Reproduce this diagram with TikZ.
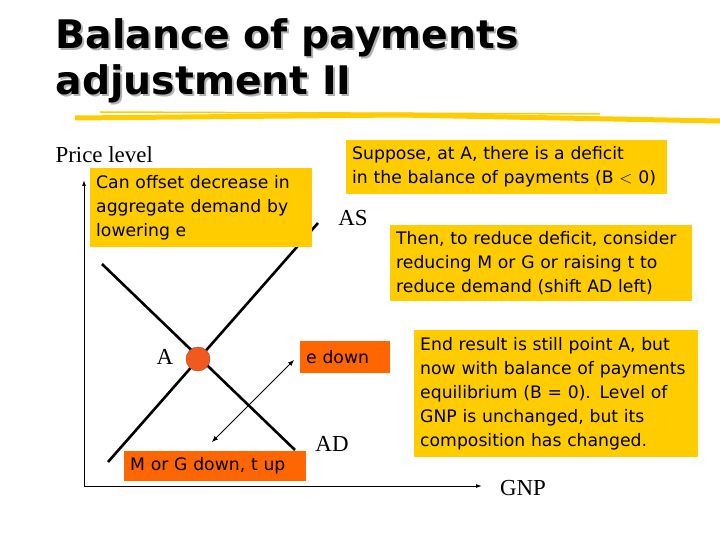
\documentclass[tikz,border=0pt]{standalone}
\usepackage{fontspec}
\setmainfont{Liberation Serif}
\newfontfamily\boxfont{DejaVu Sans}
\newfontfamily\titlefont{DejaVu Sans}
\usetikzlibrary{arrows.meta}
\definecolor{ybox}{HTML}{FFCC00}
\definecolor{obox}{HTML}{FF6600}
\definecolor{dotc}{HTML}{F05A1E}
\begin{document}
\begin{tikzpicture}[x=1bp,y=-1bp,
  ybx/.style={fill=ybox,anchor=north west,inner xsep=6bp,inner ysep=2bp,align=left,font=\boxfont\fontsize{17.3}{24}\selectfont},
  obx/.style={ybx,fill=obox},
  lbl/.style={font=\fontsize{23}{26}\selectfont},
  curve/.style={line width=2.6bp,black},
  ttl/.style={anchor=north west,align=left,font=\titlefont\bfseries\fontsize{39.5}{46}\selectfont}]
\useasboundingbox (0,0) rectangle (720,540);
% title
\node[ttl,text=gray!60] at (54,17) {Balance of payments\\adjustment II};
\node[ttl] (title) at (52,15) {Balance of payments\\adjustment II};
\draw[ybox,line width=5bp] (75,118) -- (400,115) -- (720,121);
\draw[ybox,line width=1.5bp] (100,112) -- (600,114);
% axes
\coordinate (O) at (84,486);
\coordinate (Y) at (84,180);
\coordinate (X) at (482,486);
\draw[-{Latex[length=6bp,width=4bp]},line width=1bp] (O) -- (Y);
\draw[-{Latex[length=6bp,width=4bp]},line width=1bp] (O) -- (X);
\node[lbl,anchor=west] (pl) at (52,155) {Price level};
\node[lbl] (gnp) at (523,488) {GNP};
% curves
\coordinate (as1) at (108,462); \coordinate (as2) at (318,223);
\coordinate (ad1) at (102,264); \coordinate (ad2) at (295,450);
\draw[curve] (as1) -- (as2);
\draw[curve] (ad1) -- (ad2);
\node[lbl] (asl) at (353,218) {AS};
\node[lbl] (adl) at (332,444) {AD};
\node[circle,fill=dotc,draw=dotc!70!black,minimum size=24bp,inner sep=0] (A) at (198,359) {};
\node[lbl] (al) at (165,357) {A};
% boxes
\node[ybx,text width=210bp,minimum height=79bp] (can) at (90,168) {Can offset decrease in\\aggregate demand by\\lowering e};
\node[ybx,text width=309bp,minimum height=54bp] (sup) at (346,140) {Suppose, at A, there is a deficit\\in the balance of payments (B $<$ 0)};
\node[ybx,text width=290bp,minimum height=76bp] (then) at (390,225) {Then, to reduce deficit, consider\\reducing M or G or raising t to\\reduce demand (shift AD left)};
\node[obx,text width=78bp,minimum height=32bp,inner ysep=4bp] (edown) at (300,341) {e down};
\node[obx,text width=170bp,minimum height=30bp,inner ysep=3bp] (mg) at (124,451) {M or G down, t up};
\node[ybx,text width=272bp,minimum height=127bp] (end) at (414,330) {End result is still point A, but\\now with balance of payments\\equilibrium (B = 0). Level of\\GNP is unchanged, but its\\composition has changed.};
% double arrow
\coordinate (p1) at (212,442); \coordinate (p2) at (294,360);
\draw[{Latex[length=6bp,width=5bp]}-{Latex[length=6bp,width=5bp]},line width=0.8bp] (p1) -- (p2);
\end{tikzpicture}
\end{document}
